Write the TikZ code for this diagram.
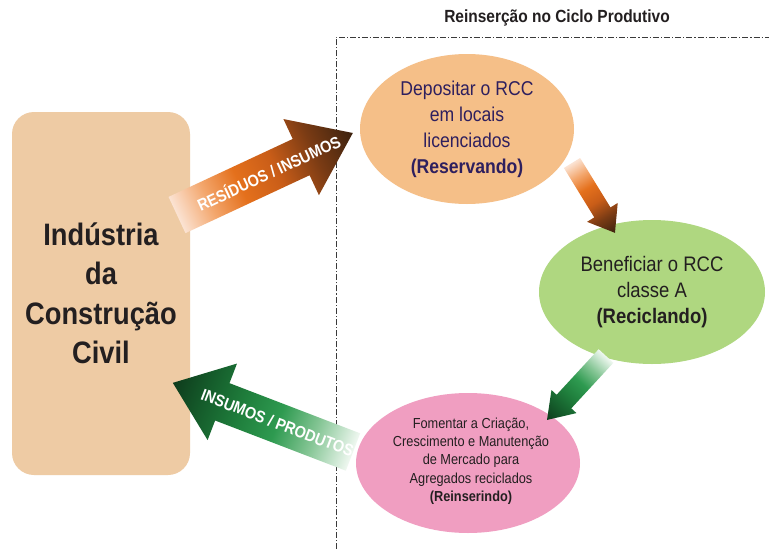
\documentclass[tikz,border=0pt]{standalone}
\usepackage{fontspec}
\setmainfont{Liberation Sans}[FakeStretch=0.88]
\usetikzlibrary{shapes.geometric,calc}
\definecolor{tanbox}{HTML}{EECBA4}
\definecolor{orangeell}{HTML}{F5BF88}
\definecolor{greenell}{HTML}{AFD780}
\definecolor{pinkell}{HTML}{F09EC1}
\definecolor{purpletxt}{HTML}{2E1F5E}
\definecolor{darktxt}{HTML}{231F20}
\definecolor{dashgray}{HTML}{3A3A3A}
\definecolor{oA}{HTML}{FBE3D3}
\definecolor{oB}{HTML}{F3A66C}
\definecolor{oC}{HTML}{E4701C}
\definecolor{oD}{HTML}{C95D18}
\definecolor{oE}{HTML}{7A3B14}
\definecolor{oF}{HTML}{3C220F}
\definecolor{gA}{HTML}{F0F8F1}
\definecolor{gB}{HTML}{84C594}
\definecolor{gC}{HTML}{2E9A50}
\definecolor{gD}{HTML}{1F7E3C}
\definecolor{gE}{HTML}{155C2B}
\definecolor{gF}{HTML}{0E3B1C}
\pgfdeclarehorizontalshading{orangearrow}{100bp}{color(0bp)=(oA); color(25bp)=(oA);
  color(34bp)=(oB); color(43bp)=(oC); color(53bp)=(oD); color(64bp)=(oE); color(75bp)=(oF); color(100bp)=(oF)}
\pgfdeclarehorizontalshading{greenarrow}{100bp}{color(0bp)=(gA); color(25bp)=(gA);
  color(36bp)=(gB); color(46bp)=(gC); color(56bp)=(gD); color(66bp)=(gE); color(75bp)=(gF); color(100bp)=(gF)}
\tikzset{
  bubble/.style={ellipse, draw=none, inner sep=0pt, align=center, text=darktxt},
  dashdot/.style={draw=dashgray, line width=0.9pt, dash pattern=on 6pt off 2pt on 1.2pt off 2pt},
  arrowlabel/.style={text=white, font=\fontsize{16.5}{16.5}\selectfont\bfseries, inner sep=0pt},
}
% #1 tail coordinate, #2 angle, #3 length, #4 head width, #5 body width, #6 head length, #7 shading
\newcommand\shadedarrow[7]{%
  \begin{scope}[transform canvas={shift={(#1)}, rotate=#2}]
    \shade[shading=#7]
      (0,-#5/2) -- (#3-#6,-#5/2) -- (#3-#6,-#4/2) -- (#3,0) -- (#3-#6,#4/2)
      -- (#3-#6,#5/2) -- (0,#5/2) -- cycle;
  \end{scope}}
\begin{document}
\begin{tikzpicture}[x=1pt,y=-1pt]
\useasboundingbox[fill=white] (0,0) rectangle (769,549);
% title and frame
\node[font=\fontsize{17.6}{17.6}\selectfont\bfseries, text=darktxt] (title) at (557,18) {Reinserção no Ciclo Produtivo};
\coordinate (dtop) at (336,37);
\coordinate (dbot) at (336,549);
\coordinate (dright) at (769,37);
\draw[dashdot] (dbot) -- (dtop) -- (dright);
% left box
\node[rounded corners=22pt, fill=tanbox, minimum width=178pt, minimum height=363pt,
      align=center, text=darktxt, font=\fontsize{31}{39.5}\selectfont\bfseries] (icc) at (101,293.5)
      {Indústria\\da\\Construção\\Civil};
% ellipses
\node[bubble, fill=orangeell, minimum width=214pt, minimum height=150pt, text=purpletxt,
      font=\fontsize{20}{26}\selectfont] (e1) at (467,129)
      {Depositar o RCC\\em locais\\licenciados\\\textbf{(Reservando)}};
\node[bubble, fill=greenell, minimum width=226pt, minimum height=144pt,
      font=\fontsize{21}{26}\selectfont] (e2) at (652,292)
      {Beneficiar o RCC\\classe A\\\textbf{(Reciclando)}};
\node[bubble, fill=pinkell, minimum width=224pt, minimum height=140pt] (e3) at (468,463) {};
\node[align=center, text=darktxt, inner sep=0pt, font=\fontsize{14.5}{18.3}\selectfont] (t3) at (471,461)
      {Fomentar a Criação,\\Crescimento e Manutenção\\de Mercado para\\Agregados reciclados\\\textbf{(Reinserindo)}};
% arrows
\coordinate (a1s) at (177,215); \coordinate (a1e) at (353,133);
\coordinate (a2s) at (572,163); \coordinate (a2e) at (615,233);
\coordinate (a3s) at (606,356); \coordinate (a3e) at (547,420);
\coordinate (a4s) at (353,452); \coordinate (a4e) at (173,383);
\shadedarrow{a1s}{25}{194}{84}{40}{57}{orangearrow}
\shadedarrow{a2s}{-58.4}{82}{36}{19}{24}{orangearrow}
\shadedarrow{a3s}{-132.7}{87}{34}{20}{25}{greenarrow}
\shadedarrow{a4s}{159}{193}{82}{40}{53}{greenarrow}
\node[arrowlabel, rotate=25] (l1) at ($(a1s)!0.52!(a1e)$) {RESÍDUOS / INSUMOS};
\node[arrowlabel, rotate=-21] (l4) at ($(a4e)!0.58!(a4s)$) {INSUMOS / PRODUTOS};
\end{tikzpicture}
\end{document}
